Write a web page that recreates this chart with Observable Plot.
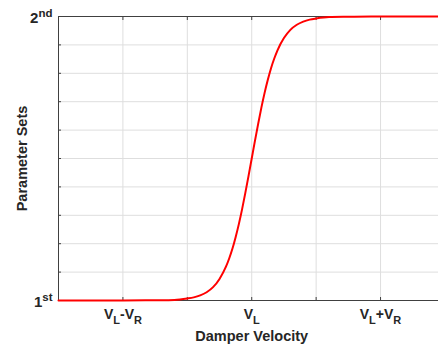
<!DOCTYPE html>
<html><head><meta charset="utf-8">
<script src="https://cdn.jsdelivr.net/npm/d3@7"></script>
<script src="https://cdn.jsdelivr.net/npm/@observablehq/plot@0.6"></script>
<style>
body{margin:0;background:#fff;overflow:hidden;}
svg{font-family:"Liberation Sans",Arial,sans-serif;}
</style>
</head><body><div id="chart"></div>
<script>
// Damper velocity in units of V_R/2 relative to V_L
const velocity = [-3, -2, -1.5, -1.2, -1, -0.9, -0.8, -0.7, -0.6, -0.5, -0.4, -0.35, -0.3, -0.25, -0.2, -0.15, -0.1, -0.05, 0, 0.05, 0.1, 0.15, 0.2, 0.25, 0.3, 0.35, 0.4, 0.5, 0.6, 0.7, 0.8, 0.9, 1, 1.2, 1.5, 2, 2.9];
const paramSet = [1.0, 1.0, 1.001, 1.002, 1.007, 1.011, 1.018, 1.029, 1.047, 1.076, 1.119, 1.148, 1.182, 1.223, 1.269, 1.321, 1.378, 1.438, 1.5, 1.562, 1.622, 1.679, 1.731, 1.777, 1.818, 1.852, 1.881, 1.924, 1.953, 1.971, 1.982, 1.989, 1.993, 1.998, 1.999, 2.0, 2.0];

const xTicks = [-2, -1, 0, 1, 2];
const xTickLabels = ["V_L-V_R", "", "V_L", "", "V_L+V_R"];
const yTicks = [1, 1.1, 1.2, 1.3, 1.4, 1.5, 1.6, 1.7, 1.8, 1.9, 2];
const yLabelTicks = [1, 2];
const yTickLabels = ["1^st", "2^nd"];
const xDomain = [-3, 2.9];
const yDomain = [1, 2];
const xTitle = "Damper Velocity";
const yTitle = "Parameter Sets";

const data = velocity.map((v, i) => ({v, p: paramSet[i]}));
const xLabelMap = new Map(xTicks.map((t, i) => [t, xTickLabels[i]]));
const yLabelMap = new Map(yLabelTicks.map((t, i) => [t, yTickLabels[i]]));

const axisColor = "#404040";
const gridColor = "#dedede";
const textColor = "#262626";

const plot = Plot.plot({
  width: 438, height: 345,
  marginLeft: 58, marginRight: 0, marginTop: 16, marginBottom: 45,
  x: {domain: xDomain},
  y: {domain: yDomain},
  style: {fontFamily: '"Liberation Sans", Arial, sans-serif', color: textColor, background: "#fff"},
  marks: [
    Plot.gridX(xTicks, {stroke: gridColor, strokeOpacity: 1}),
    Plot.gridY(yTicks.slice(1, -1), {stroke: gridColor, strokeOpacity: 1}),
    Plot.ruleY(yDomain, {stroke: axisColor}),
    Plot.ruleX([xDomain[0]], {stroke: axisColor}),
    Plot.axisX(xTicks, {anchor: "bottom", tickSize: 3, dy: -3, tickFormat: () => "", label: null, stroke: axisColor}),
    Plot.axisX(xTicks, {anchor: "top", tickSize: 3, dy: 3, tickFormat: () => "", label: null, stroke: axisColor}),
    Plot.axisY(yTicks, {anchor: "left", tickSize: 3, dx: 3, tickFormat: () => "", label: null, stroke: axisColor}),
    Plot.axisX(xTicks, {anchor: "bottom", tickSize: 0, tickPadding: 9, tickFormat: d => xLabelMap.get(d), label: null, fontSize: 14, fontWeight: "bold", fill: textColor}),
    Plot.axisY(yLabelTicks, {anchor: "left", tickSize: 0, tickPadding: 6, dy: 1.5, tickFormat: d => yLabelMap.get(d), label: null, fontSize: 15, fontWeight: "bold", fill: textColor}),
    Plot.text([xTitle], {x: () => 0, frameAnchor: "bottom", textAnchor: "middle", lineAnchor: "middle", dy: 35.5, text: d => d, fontSize: 14.5, fontWeight: "bold", fill: textColor}),
    Plot.text([yTitle], {frameAnchor: "left", textAnchor: "middle", lineAnchor: "middle", dx: -36, rotate: -90, text: d => d, fontSize: 14.5, fontWeight: "bold", fill: textColor}),
    Plot.line(data, {x: "v", y: "p", stroke: "#ff0000", strokeWidth: 2, curve: "monotone-x"})
  ]
});

// Render _sub and ^sup markup as real tspans
function richify(svg) {
  d3.select(svg).selectAll("text").each(function() {
    const t = this.textContent;
    if (!/[_^]/.test(t)) return;
    const el = d3.select(this);
    el.text(null);
    const parts = t.split(/([_^][A-Za-z0-9]+)/).filter(s => s);
    let shift = 0;
    parts.forEach(p => {
      let target = 0, size = null;
      if (p[0] === "_") { target = 4.5; size = 11; p = p.slice(1); }
      else if (p[0] === "^") { target = -6; size = 11.5; p = p.slice(1); }
      const ts = el.append("tspan").attr("dy", target - shift).text(p);
      if (size) ts.attr("font-size", size);
      shift = target;
    });
  });
}
richify(plot);
document.getElementById("chart").appendChild(plot);
</script>
</body></html>
